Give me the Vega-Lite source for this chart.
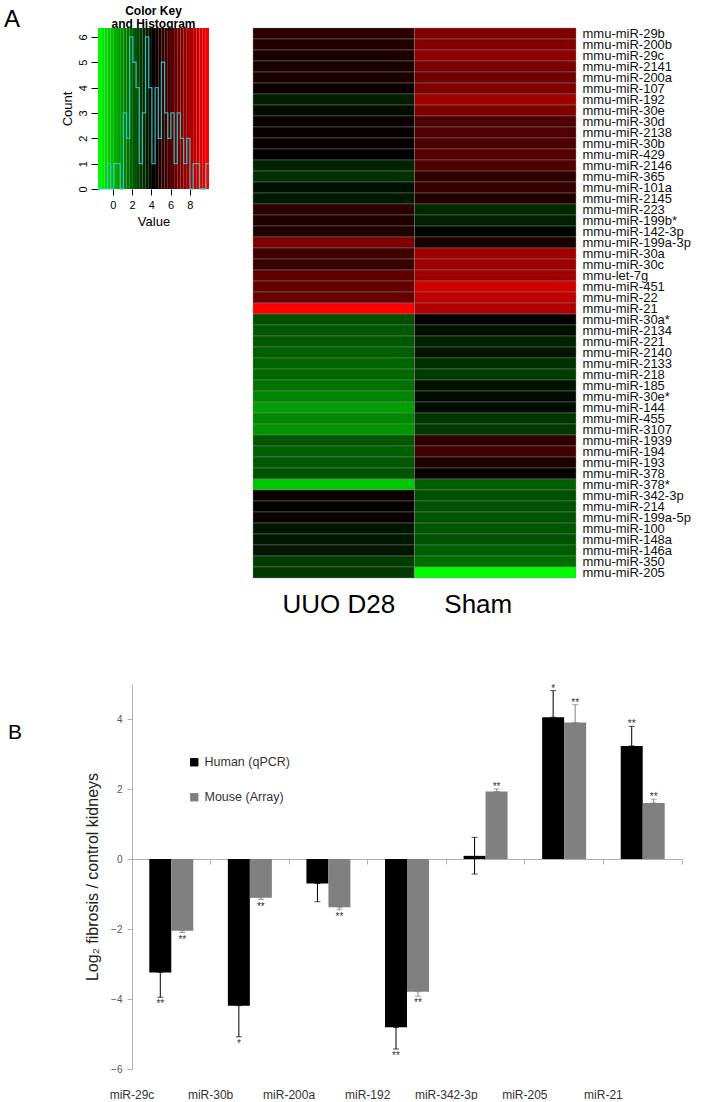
{
  "$schema": "https://vega.github.io/schema/vega-lite/v6.json",
  "padding": {"left": 4, "top": 5, "right": 0, "bottom": 0},
  "config": {
    "font": "Liberation Sans",
    "view": {"stroke": null},
    "axis": {"grid": false}
  },
  "datasets": {
    "bands": [
      {"lo": -1.55, "hi": -1.22, "mid": -1.385},
      {"lo": -1.22, "hi": -0.89, "mid": -1.055},
      {"lo": -0.89, "hi": -0.56, "mid": -0.725},
      {"lo": -0.56, "hi": -0.23, "mid": -0.395},
      {"lo": -0.23, "hi": 0.1, "mid": -0.065},
      {"lo": 0.1, "hi": 0.43, "mid": 0.265},
      {"lo": 0.43, "hi": 0.76, "mid": 0.595},
      {"lo": 0.76, "hi": 1.09, "mid": 0.925},
      {"lo": 1.09, "hi": 1.42, "mid": 1.255},
      {"lo": 1.42, "hi": 1.75, "mid": 1.585},
      {"lo": 1.75, "hi": 2.08, "mid": 1.915},
      {"lo": 2.08, "hi": 2.41, "mid": 2.245},
      {"lo": 2.41, "hi": 2.74, "mid": 2.575},
      {"lo": 2.74, "hi": 3.07, "mid": 2.905},
      {"lo": 3.07, "hi": 3.4, "mid": 3.235},
      {"lo": 3.4, "hi": 3.73, "mid": 3.565},
      {"lo": 3.73, "hi": 4.06, "mid": 3.895},
      {"lo": 4.06, "hi": 4.39, "mid": 4.225},
      {"lo": 4.39, "hi": 4.72, "mid": 4.555},
      {"lo": 4.72, "hi": 5.05, "mid": 4.885},
      {"lo": 5.05, "hi": 5.38, "mid": 5.215},
      {"lo": 5.38, "hi": 5.71, "mid": 5.545},
      {"lo": 5.71, "hi": 6.04, "mid": 5.875},
      {"lo": 6.04, "hi": 6.37, "mid": 6.205},
      {"lo": 6.37, "hi": 6.7, "mid": 6.535},
      {"lo": 6.7, "hi": 7.03, "mid": 6.865},
      {"lo": 7.03, "hi": 7.36, "mid": 7.195},
      {"lo": 7.36, "hi": 7.69, "mid": 7.525},
      {"lo": 7.69, "hi": 8.02, "mid": 7.855},
      {"lo": 8.02, "hi": 8.35, "mid": 8.185},
      {"lo": 8.35, "hi": 8.68, "mid": 8.515},
      {"lo": 8.68, "hi": 9.01, "mid": 8.845},
      {"lo": 9.01, "hi": 9.34, "mid": 9.175},
      {"lo": 9.34, "hi": 9.67, "mid": 9.505},
      {"lo": 9.67, "hi": 10.0, "mid": 9.835}
    ],
    "hist": [
      {"x": -1.55, "n": 0}, {"x": -1.22, "n": 0}, {"x": -0.89, "n": 0}, {"x": -0.56, "n": 1},
      {"x": -0.23, "n": 0}, {"x": 0.1, "n": 1}, {"x": 0.43, "n": 1}, {"x": 0.76, "n": 0},
      {"x": 1.09, "n": 3}, {"x": 1.42, "n": 2}, {"x": 1.75, "n": 6}, {"x": 2.08, "n": 5},
      {"x": 2.41, "n": 4}, {"x": 2.74, "n": 1}, {"x": 3.07, "n": 3}, {"x": 3.4, "n": 6},
      {"x": 3.73, "n": 4}, {"x": 4.06, "n": 1}, {"x": 4.39, "n": 4}, {"x": 4.72, "n": 2},
      {"x": 5.05, "n": 5}, {"x": 5.38, "n": 3}, {"x": 5.71, "n": 2}, {"x": 6.04, "n": 3},
      {"x": 6.37, "n": 1}, {"x": 6.7, "n": 3}, {"x": 7.03, "n": 2}, {"x": 7.36, "n": 1},
      {"x": 7.69, "n": 2}, {"x": 8.02, "n": 0}, {"x": 8.35, "n": 1}, {"x": 8.68, "n": 1},
      {"x": 9.01, "n": 0}, {"x": 9.34, "n": 0}, {"x": 9.67, "n": 1}, {"x": 10.0, "n": 1}
    ],
    "heat": [
      {"g": "mmu-miR-29b", "c": "UUO D28", "v": 5.2}, {"g": "mmu-miR-29b", "c": "Sham", "v": 7.1},
      {"g": "mmu-miR-200b", "c": "UUO D28", "v": 5.0}, {"g": "mmu-miR-200b", "c": "Sham", "v": 7.2},
      {"g": "mmu-miR-29c", "c": "UUO D28", "v": 4.8}, {"g": "mmu-miR-29c", "c": "Sham", "v": 7.5},
      {"g": "mmu-miR-2141", "c": "UUO D28", "v": 4.75}, {"g": "mmu-miR-2141", "c": "Sham", "v": 7.0},
      {"g": "mmu-miR-200a", "c": "UUO D28", "v": 4.8}, {"g": "mmu-miR-200a", "c": "Sham", "v": 6.7},
      {"g": "mmu-miR-107", "c": "UUO D28", "v": 4.5}, {"g": "mmu-miR-107", "c": "Sham", "v": 7.1},
      {"g": "mmu-miR-192", "c": "UUO D28", "v": 3.5}, {"g": "mmu-miR-192", "c": "Sham", "v": 7.8},
      {"g": "mmu-miR-30e", "c": "UUO D28", "v": 3.9}, {"g": "mmu-miR-30e", "c": "Sham", "v": 7.1},
      {"g": "mmu-miR-30d", "c": "UUO D28", "v": 4.4}, {"g": "mmu-miR-30d", "c": "Sham", "v": 6.0},
      {"g": "mmu-miR-2138", "c": "UUO D28", "v": 4.4}, {"g": "mmu-miR-2138", "c": "Sham", "v": 6.0},
      {"g": "mmu-miR-30b", "c": "UUO D28", "v": 4.35}, {"g": "mmu-miR-30b", "c": "Sham", "v": 6.0},
      {"g": "mmu-miR-429", "c": "UUO D28", "v": 4.2}, {"g": "mmu-miR-429", "c": "Sham", "v": 6.2},
      {"g": "mmu-miR-2146", "c": "UUO D28", "v": 3.4}, {"g": "mmu-miR-2146", "c": "Sham", "v": 6.0},
      {"g": "mmu-miR-365", "c": "UUO D28", "v": 3.1}, {"g": "mmu-miR-365", "c": "Sham", "v": 5.3},
      {"g": "mmu-miR-101a", "c": "UUO D28", "v": 3.85}, {"g": "mmu-miR-101a", "c": "Sham", "v": 5.4},
      {"g": "mmu-miR-2145", "c": "UUO D28", "v": 3.6}, {"g": "mmu-miR-2145", "c": "Sham", "v": 5.0},
      {"g": "mmu-miR-223", "c": "UUO D28", "v": 5.2}, {"g": "mmu-miR-223", "c": "Sham", "v": 3.3},
      {"g": "mmu-miR-199b*", "c": "UUO D28", "v": 4.9}, {"g": "mmu-miR-199b*", "c": "Sham", "v": 3.5},
      {"g": "mmu-miR-142-3p", "c": "UUO D28", "v": 4.9}, {"g": "mmu-miR-142-3p", "c": "Sham", "v": 4.0},
      {"g": "mmu-miR-199a-3p", "c": "UUO D28", "v": 7.1}, {"g": "mmu-miR-199a-3p", "c": "Sham", "v": 4.75},
      {"g": "mmu-miR-30a", "c": "UUO D28", "v": 5.65}, {"g": "mmu-miR-30a", "c": "Sham", "v": 7.8},
      {"g": "mmu-miR-30c", "c": "UUO D28", "v": 5.5}, {"g": "mmu-miR-30c", "c": "Sham", "v": 7.8},
      {"g": "mmu-let-7g", "c": "UUO D28", "v": 6.4}, {"g": "mmu-let-7g", "c": "Sham", "v": 7.8},
      {"g": "mmu-miR-451", "c": "UUO D28", "v": 6.5}, {"g": "mmu-miR-451", "c": "Sham", "v": 8.9},
      {"g": "mmu-miR-22", "c": "UUO D28", "v": 6.5}, {"g": "mmu-miR-22", "c": "Sham", "v": 8.6},
      {"g": "mmu-miR-21", "c": "UUO D28", "v": 10.0}, {"g": "mmu-miR-21", "c": "Sham", "v": 8.2},
      {"g": "mmu-miR-30a*", "c": "UUO D28", "v": 2.4}, {"g": "mmu-miR-30a*", "c": "Sham", "v": 4.2},
      {"g": "mmu-miR-2134", "c": "UUO D28", "v": 2.2}, {"g": "mmu-miR-2134", "c": "Sham", "v": 3.85},
      {"g": "mmu-miR-221", "c": "UUO D28", "v": 2.2}, {"g": "mmu-miR-221", "c": "Sham", "v": 3.4},
      {"g": "mmu-miR-2140", "c": "UUO D28", "v": 2.05}, {"g": "mmu-miR-2140", "c": "Sham", "v": 3.65},
      {"g": "mmu-miR-2133", "c": "UUO D28", "v": 1.95}, {"g": "mmu-miR-2133", "c": "Sham", "v": 3.1},
      {"g": "mmu-miR-218", "c": "UUO D28", "v": 1.8}, {"g": "mmu-miR-218", "c": "Sham", "v": 2.8},
      {"g": "mmu-miR-185", "c": "UUO D28", "v": 1.6}, {"g": "mmu-miR-185", "c": "Sham", "v": 3.8},
      {"g": "mmu-miR-30e*", "c": "UUO D28", "v": 1.2}, {"g": "mmu-miR-30e*", "c": "Sham", "v": 3.9},
      {"g": "mmu-miR-144", "c": "UUO D28", "v": 0.6}, {"g": "mmu-miR-144", "c": "Sham", "v": 3.9},
      {"g": "mmu-miR-455", "c": "UUO D28", "v": 1.1}, {"g": "mmu-miR-455", "c": "Sham", "v": 3.0},
      {"g": "mmu-miR-3107", "c": "UUO D28", "v": 0.8}, {"g": "mmu-miR-3107", "c": "Sham", "v": 2.9},
      {"g": "mmu-miR-1939", "c": "UUO D28", "v": 2.2}, {"g": "mmu-miR-1939", "c": "Sham", "v": 5.3},
      {"g": "mmu-miR-194", "c": "UUO D28", "v": 2.05}, {"g": "mmu-miR-194", "c": "Sham", "v": 5.6},
      {"g": "mmu-miR-193", "c": "UUO D28", "v": 2.2}, {"g": "mmu-miR-193", "c": "Sham", "v": 4.9},
      {"g": "mmu-miR-378", "c": "UUO D28", "v": 2.3}, {"g": "mmu-miR-378", "c": "Sham", "v": 4.4},
      {"g": "mmu-miR-378*", "c": "UUO D28", "v": -0.3}, {"g": "mmu-miR-378*", "c": "Sham", "v": 2.05},
      {"g": "mmu-miR-342-3p", "c": "UUO D28", "v": 4.4}, {"g": "mmu-miR-342-3p", "c": "Sham", "v": 2.4},
      {"g": "mmu-miR-214", "c": "UUO D28", "v": 4.3}, {"g": "mmu-miR-214", "c": "Sham", "v": 2.3},
      {"g": "mmu-miR-199a-5p", "c": "UUO D28", "v": 4.4}, {"g": "mmu-miR-199a-5p", "c": "Sham", "v": 2.3},
      {"g": "mmu-miR-100", "c": "UUO D28", "v": 3.7}, {"g": "mmu-miR-100", "c": "Sham", "v": 2.2},
      {"g": "mmu-miR-148a", "c": "UUO D28", "v": 3.65}, {"g": "mmu-miR-148a", "c": "Sham", "v": 2.3},
      {"g": "mmu-miR-146a", "c": "UUO D28", "v": 3.7}, {"g": "mmu-miR-146a", "c": "Sham", "v": 2.05},
      {"g": "mmu-miR-350", "c": "UUO D28", "v": 2.8}, {"g": "mmu-miR-350", "c": "Sham", "v": 1.7},
      {"g": "mmu-miR-205", "c": "UUO D28", "v": 2.9}, {"g": "mmu-miR-205", "c": "Sham", "v": -1.5}
    ],
    "bars": [
      {"m": "miR-29c", "s": "Human (qPCR)", "v": -3.24, "lo": -3.95, "hi": -3.24, "sig": "**"},
      {"m": "miR-29c", "s": "Mouse (Array)", "v": -2.05, "lo": -2.1, "hi": -2.05, "sig": "**"},
      {"m": "miR-30b", "s": "Human (qPCR)", "v": -4.19, "lo": -5.08, "hi": -4.19, "sig": "*"},
      {"m": "miR-30b", "s": "Mouse (Array)", "v": -1.11, "lo": -1.16, "hi": -1.11, "sig": "**"},
      {"m": "miR-200a", "s": "Human (qPCR)", "v": -0.7, "lo": -1.22, "hi": -0.7, "sig": ""},
      {"m": "miR-200a", "s": "Mouse (Array)", "v": -1.38, "lo": -1.45, "hi": -1.38, "sig": "**"},
      {"m": "miR-192", "s": "Human (qPCR)", "v": -4.81, "lo": -5.43, "hi": -4.81, "sig": "**"},
      {"m": "miR-192", "s": "Mouse (Array)", "v": -3.79, "lo": -3.92, "hi": -3.79, "sig": "**"},
      {"m": "miR-342-3p", "s": "Human (qPCR)", "v": 0.09, "lo": -0.43, "hi": 0.62, "sig": ""},
      {"m": "miR-342-3p", "s": "Mouse (Array)", "v": 1.93, "lo": 1.93, "hi": 2.0, "sig": "**"},
      {"m": "miR-205", "s": "Human (qPCR)", "v": 4.05, "lo": 4.05, "hi": 4.81, "sig": "*"},
      {"m": "miR-205", "s": "Mouse (Array)", "v": 3.9, "lo": 3.9, "hi": 4.41, "sig": "**"},
      {"m": "miR-21", "s": "Human (qPCR)", "v": 3.23, "lo": 3.23, "hi": 3.79, "sig": "**"},
      {"m": "miR-21", "s": "Mouse (Array)", "v": 1.6, "lo": 1.6, "hi": 1.71, "sig": "**"}
    ]
  },
  "bounds": "full",
  "spacing": 64,
  "vconcat": [
    {
      "bounds": "flush",
      "spacing": 44,
      "hconcat": [
        {
          "width": 111,
          "height": 161,
          "title": {"text": ["Color Key", "and Histogram"], "frame": "group", "fontSize": 12, "fontWeight": "bold", "anchor": "middle", "offset": -3, "lineHeight": 13, "color": "#000"},
          "layer": [
            {
              "data": {"name": "bands"},
              "mark": {"type": "rect"},
              "encoding": {
                "x": {"field": "lo", "type": "quantitative", "scale": {"domain": [-1.55, 10], "nice": false, "zero": false},
                  "axis": {"values": [0, 2, 4, 6, 8], "labelOverlap": false, "labelFlush": false, "title": "Value", "titleFontSize": 13, "titleFontWeight": "normal", "titleColor": "#000", "titlePadding": 5, "labelFontSize": 11, "labelColor": "#000", "labelPadding": 4, "tickSize": 6, "tickColor": "#000", "domain": false}},
                "x2": {"field": "hi"},
                "color": {"field": "mid", "type": "quantitative", "scale": {"type": "linear", "domain": [-1.55, 4.2, 10], "range": ["#00ff00", "#000000", "#ff0000"], "interpolate": "rgb"}, "legend": null}
              }
            },
            {
              "data": {"name": "hist"},
              "mark": {"type": "line", "interpolate": "step-after", "color": "#3cc8c8", "strokeWidth": 1.3, "opacity": 0.85},
              "encoding": {
                "x": {"field": "x", "type": "quantitative",
                  "axis": {"values": [0, 2, 4, 6, 8], "labelOverlap": false, "labelFlush": false, "title": "Value", "titleFontSize": 13, "titleFontWeight": "normal", "titleColor": "#000", "titlePadding": 5, "labelFontSize": 11, "labelColor": "#000", "labelPadding": 4, "tickSize": 6, "tickColor": "#000", "domain": false}},
                "y": {"field": "n", "type": "quantitative", "scale": {"domain": [0, 6.35], "nice": false},
                  "axis": {"values": [0, 1, 2, 3, 4, 5, 6], "labelOverlap": false, "title": "Count", "titleFontSize": 13, "titleFontWeight": "normal", "titleColor": "#000", "titlePadding": 3, "labelFontSize": 11, "labelColor": "#000", "labelAngle": 270, "labelAlign": "center", "labelBaseline": "bottom", "labelPadding": 3, "tickSize": 7, "tickColor": "#000", "domain": false}}
              }
            }
          ]
        },
        {
          "width": 323,
          "height": 550,
          "title": {"text": "A", "frame": "group", "anchor": "start", "fontSize": 24, "fontWeight": "normal", "dx": -249, "dy": 24, "offset": 0, "baseline": "alphabetic", "color": "#000"},
          "data": {"name": "heat"},
          "mark": {"type": "rect", "stroke": "#8a8a8a", "strokeWidth": 0.6, "strokeOpacity": 0.7},
          "encoding": {
            "x": {"field": "c", "type": "nominal", "sort": ["UUO D28", "Sham"], "scale": {"paddingInner": 0, "paddingOuter": 0},
              "axis": {"orient": "bottom", "title": null, "labelAngle": 0, "labelFontSize": 26, "labelColor": "#000", "ticks": false, "domain": false, "labelPadding": 13,
                "labelOffset": {"condition": {"test": "datum.value === 'Sham'", "value": -17}, "value": 5}}},
            "y": {"field": "g", "type": "nominal", "sort": null, "scale": {"paddingInner": 0, "paddingOuter": 0},
              "axis": {"orient": "right", "title": null, "ticks": false, "domain": false, "labelFontSize": 13, "labelColor": "#111", "labelPadding": 6, "labelOverlap": false}},
            "color": {"field": "v", "type": "quantitative", "scale": {"type": "linear", "domain": [-1.55, 4.2, 10], "range": ["#00ff00", "#000000", "#ff0000"], "interpolate": "rgb"}, "legend": null}
          }
        }
      ]
    },
    {
      "bounds": "flush",
      "spacing": 33,
      "hconcat": [
        {
          "width": 1,
          "height": 1,
          "data": {"values": [{"k": 1}]},
          "mark": {"type": "point", "opacity": 0},
          "encoding": {}
        },
        {
          "width": 550,
          "height": 385,
          "title": {"text": "B", "frame": "group", "anchor": "start", "fontSize": 21, "fontWeight": "normal", "dx": -124, "dy": 76, "offset": 0, "baseline": "alphabetic", "color": "#000"},
          "data": {"name": "bars"},
          "encoding": {
            "x": {"field": "m", "type": "nominal", "sort": null, "scale": {"paddingInner": 0.44, "paddingOuter": 0.22},
              "axis": {"title": null, "orient": "bottom", "offset": -210, "bandPosition": 1.3929, "tickSize": 5, "tickColor": "#b0b0b0", "domainColor": "#b0b0b0", "labelAngle": 0, "labelFontSize": 12, "labelColor": "#333", "labelPadding": 225, "labelOffset": -39.29}},
            "xOffset": {"field": "s", "type": "nominal", "scale": {"paddingInner": 0, "paddingOuter": 0}}
          },
          "layer": [
            {
              "mark": {"type": "bar"},
              "encoding": {
                "y": {"field": "v", "type": "quantitative", "scale": {"domain": [-6, 5], "nice": false},
                  "axis": {"title": "Log₂ fibrosis / control kidneys", "titleFontSize": 16, "titleFontWeight": "normal", "titleColor": "#222", "titlePadding": 10, "values": [-6, -4, -2, 0, 2, 4], "domainColor": "#b0b0b0", "tickColor": "#b0b0b0", "tickSize": 5, "labelColor": "#555", "labelFontSize": 10, "labelPadding": 5}},
                "color": {"field": "s", "type": "nominal", "scale": {"domain": ["Human (qPCR)", "Mouse (Array)"], "range": ["#000000", "#808080"]},
                  "legend": {"orient": "none", "legendX": 90, "legendY": 72, "title": null, "symbolType": "square", "symbolSize": 70, "symbolStrokeWidth": 0, "labelFontSize": 12.5, "labelColor": "#333", "rowPadding": 22, "padding": 0}}
              }
            },
            {
              "mark": {"type": "rule", "strokeWidth": 1},
              "encoding": {
                "y": {"field": "lo", "type": "quantitative"},
                "y2": {"field": "hi"},
                "color": {"field": "s", "type": "nominal", "legend": null}
              }
            },
            {
              "mark": {"type": "tick", "size": 6, "thickness": 1},
              "encoding": {
                "y": {"field": "lo", "type": "quantitative"},
                "color": {"field": "s", "type": "nominal", "legend": null}
              }
            },
            {
              "mark": {"type": "tick", "size": 6, "thickness": 1},
              "encoding": {
                "y": {"field": "hi", "type": "quantitative"},
                "color": {"field": "s", "type": "nominal", "legend": null}
              }
            },
            {
              "transform": [{"filter": "datum.v < 0"}],
              "mark": {"type": "text", "baseline": "top", "dy": 2, "fontSize": 10, "color": "#333"},
              "encoding": {
                "y": {"field": "lo", "type": "quantitative"},
                "text": {"field": "sig"}
              }
            },
            {
              "transform": [{"filter": "datum.v >= 0"}],
              "mark": {"type": "text", "baseline": "alphabetic", "dy": 1, "fontSize": 10, "color": "#333"},
              "encoding": {
                "y": {"field": "hi", "type": "quantitative"},
                "text": {"field": "sig"}
              }
            }
          ]
        }
      ]
    }
  ]
}
